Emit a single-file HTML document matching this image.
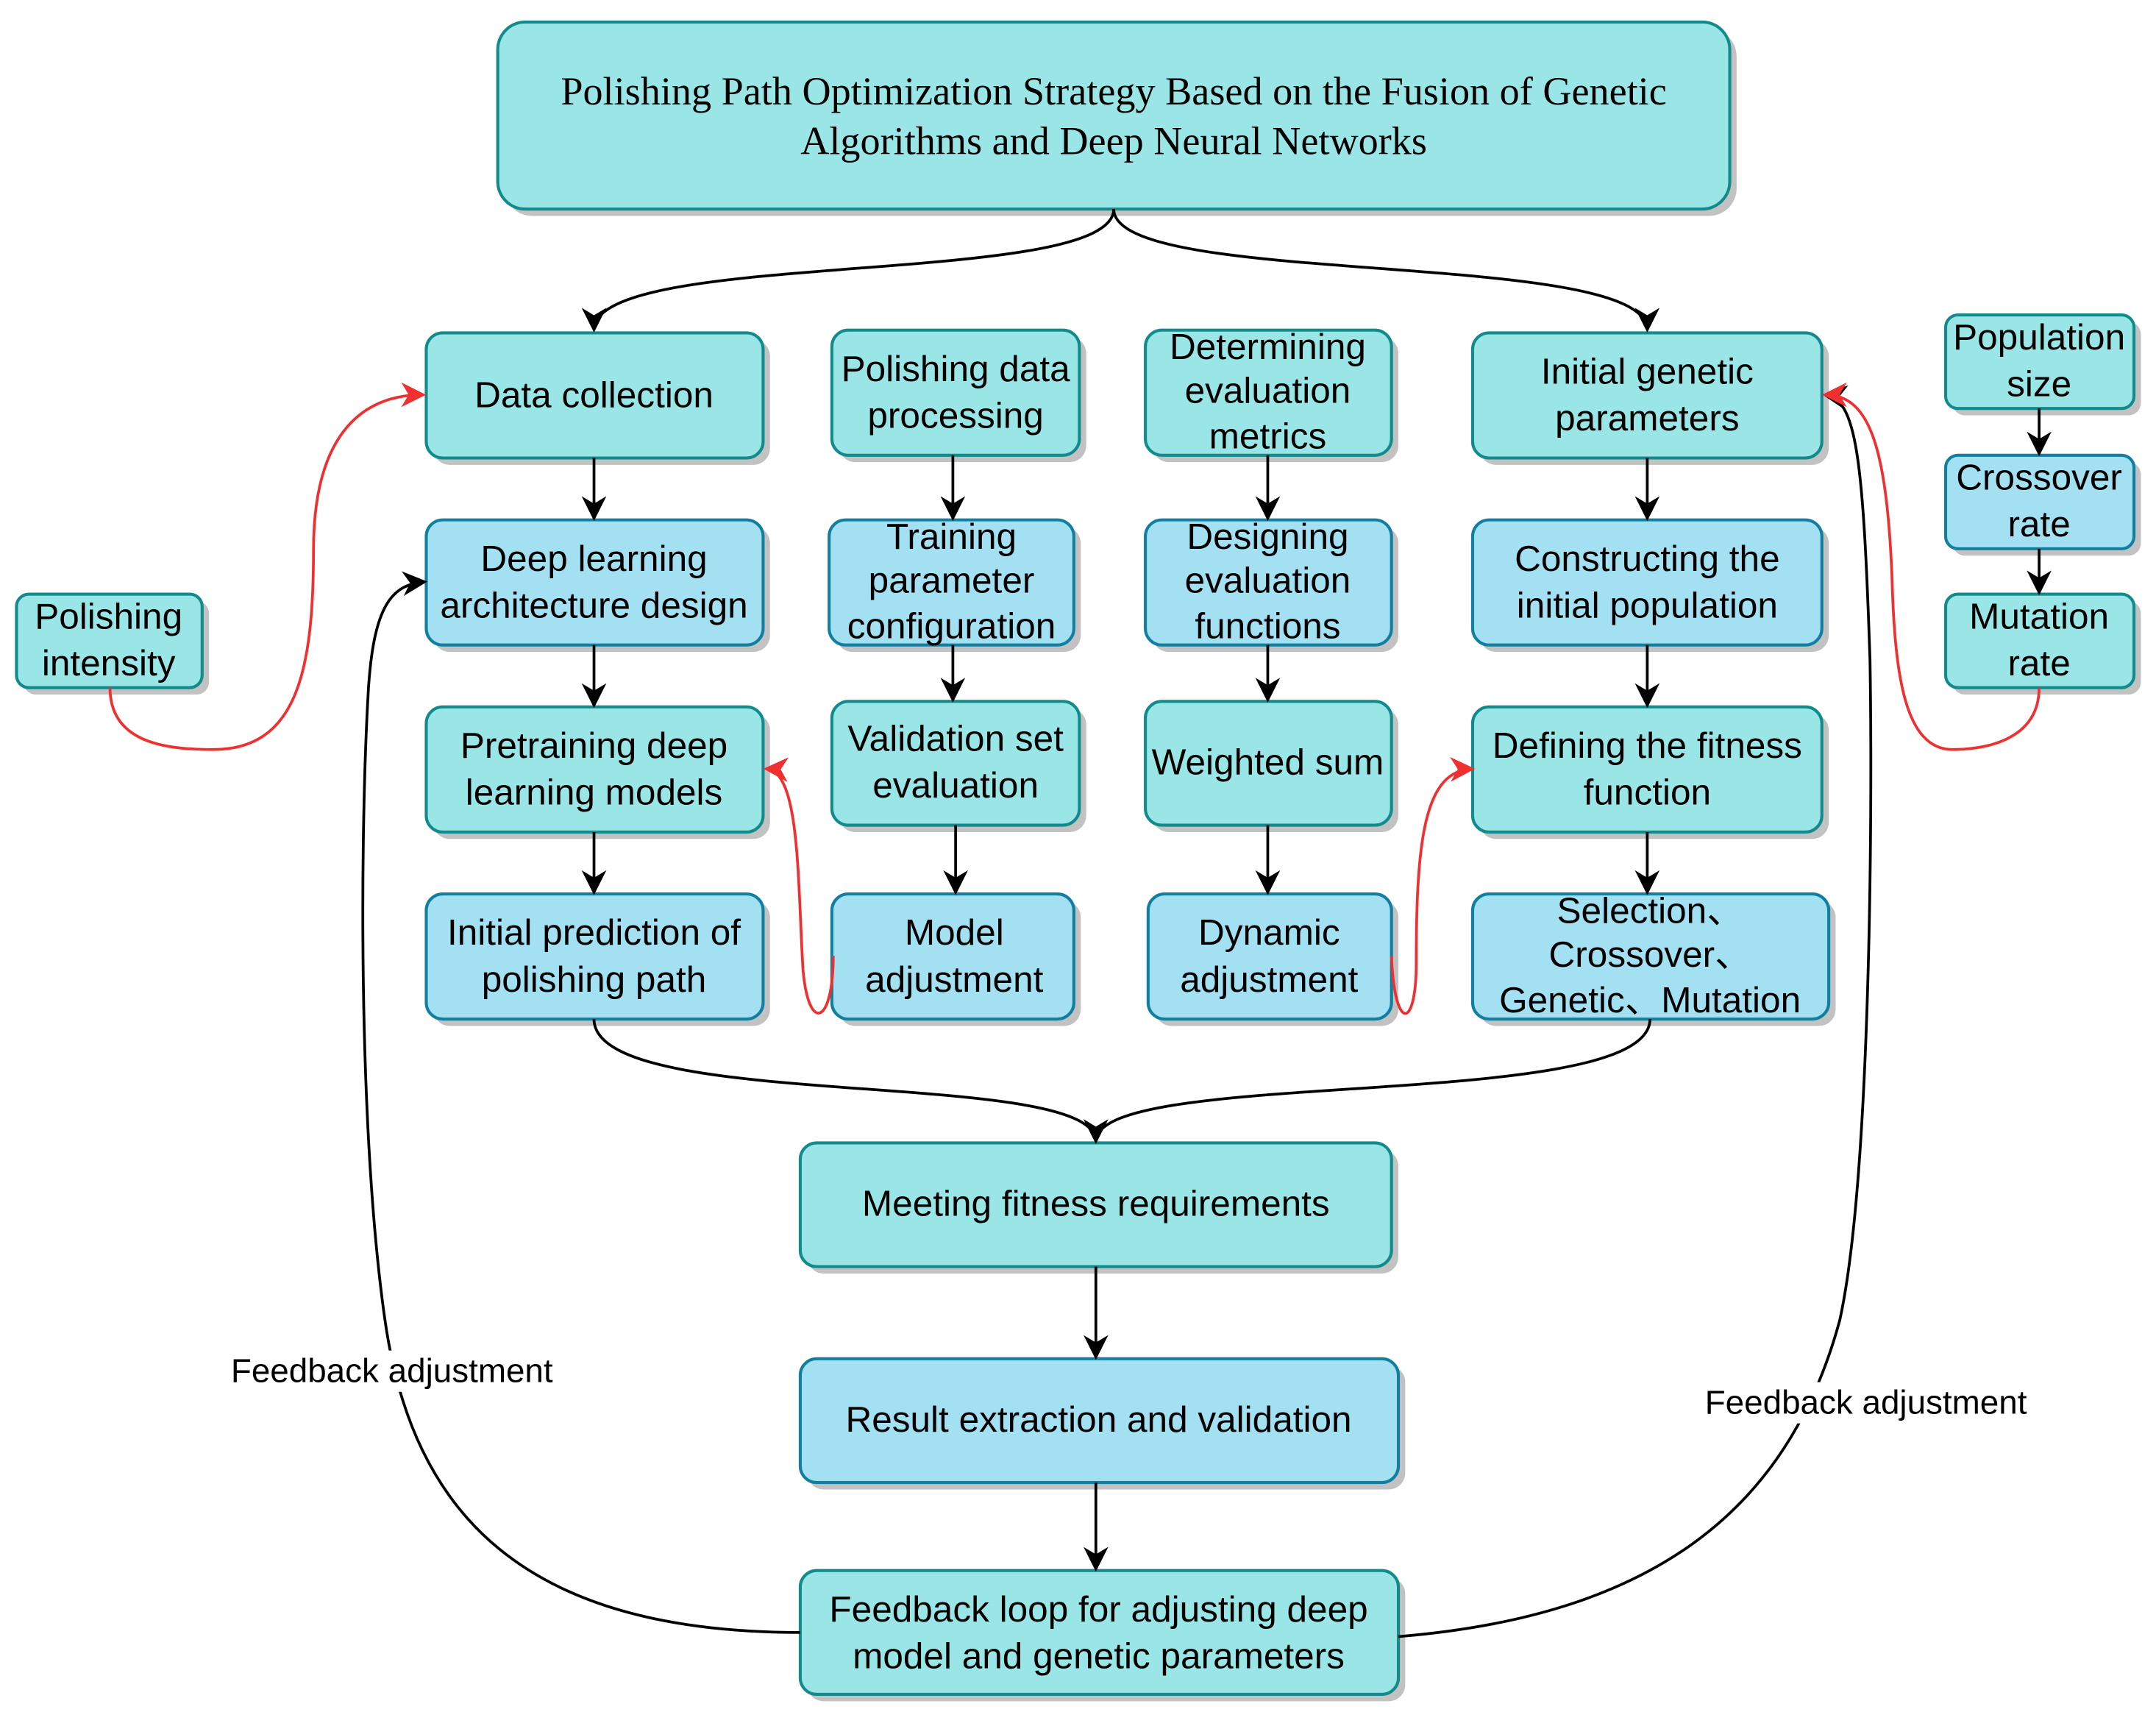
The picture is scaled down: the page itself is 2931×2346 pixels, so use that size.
<!DOCTYPE html>
<html><head><meta charset="utf-8"><style>
html,body{margin:0;padding:0;background:#fff;}
svg{display:block;}
text{font-family:"Liberation Sans","Noto Sans CJK SC",sans-serif;font-size:26.5px;fill:#000;text-anchor:middle;}
.t{fill:#9ae6e6;stroke:#138a8c;stroke-width:2.2;}
.b{fill:#a2e0f2;stroke:#127fa0;stroke-width:2.2;}
.s{fill:#c2c2c2;}
.k{fill:none;stroke:#000;stroke-width:2;}
.r{fill:none;stroke:#f03030;stroke-width:2;}
.ser{font-family:"Liberation Serif",serif;font-size:29px;}
.fb{font-size:24.5px;}
</style></head><body>
<svg width="2931" height="2346" viewBox="0 0 1568 1255" xmlns="http://www.w3.org/2000/svg">
<defs>
<marker id="a" viewBox="0 0 10 10" refX="9" refY="5" markerWidth="18" markerHeight="18" markerUnits="userSpaceOnUse" orient="auto"><path d="M0,0 L10,5 L0,10 L3,5 z" fill="#000"/></marker>
<marker id="ar" viewBox="0 0 10 10" refX="9" refY="5" markerWidth="18" markerHeight="18" markerUnits="userSpaceOnUse" orient="auto"><path d="M0,0 L10,5 L0,10 L3,5 z" fill="#f03030"/></marker>
</defs>
<g>
<rect class="s" x="367" y="21" width="896" height="136" rx="20"/><rect class="t" x="362" y="16" width="896" height="136" rx="20"/>

<rect class="s" x="315" y="247" width="245" height="91" rx="12"/><rect class="t" x="310" y="242" width="245" height="91" rx="12"/>
<rect class="s" x="315" y="383" width="245" height="91" rx="12"/><rect class="b" x="310" y="378" width="245" height="91" rx="12"/>
<rect class="s" x="315" y="519" width="245" height="91" rx="12"/><rect class="t" x="310" y="514" width="245" height="91" rx="12"/>
<rect class="s" x="315" y="655" width="245" height="91" rx="12"/><rect class="b" x="310" y="650" width="245" height="91" rx="12"/>

<rect class="s" x="610" y="245" width="180" height="91" rx="12"/><rect class="t" x="605" y="240" width="180" height="91" rx="12"/>
<rect class="s" x="608" y="383" width="178" height="91" rx="12"/><rect class="b" x="603" y="378" width="178" height="91" rx="12"/>
<rect class="s" x="610" y="515" width="180" height="90" rx="12"/><rect class="t" x="605" y="510" width="180" height="90" rx="12"/>
<rect class="s" x="610" y="655" width="176" height="91" rx="12"/><rect class="b" x="605" y="650" width="176" height="91" rx="12"/>

<rect class="s" x="838" y="245" width="179" height="91" rx="12"/><rect class="t" x="833" y="240" width="179" height="91" rx="12"/>
<rect class="s" x="838" y="383" width="179" height="91" rx="12"/><rect class="b" x="833" y="378" width="179" height="91" rx="12"/>
<rect class="s" x="838" y="515" width="179" height="90" rx="12"/><rect class="t" x="833" y="510" width="179" height="90" rx="12"/>
<rect class="s" x="840" y="655" width="177" height="91" rx="12"/><rect class="b" x="835" y="650" width="177" height="91" rx="12"/>

<rect class="s" x="1076" y="247" width="254" height="91" rx="12"/><rect class="t" x="1071" y="242" width="254" height="91" rx="12"/>
<rect class="s" x="1076" y="383" width="254" height="91" rx="12"/><rect class="b" x="1071" y="378" width="254" height="91" rx="12"/>
<rect class="s" x="1076" y="519" width="254" height="91" rx="12"/><rect class="t" x="1071" y="514" width="254" height="91" rx="12"/>
<rect class="s" x="1076" y="655" width="259" height="91" rx="12"/><rect class="b" x="1071" y="650" width="259" height="91" rx="12"/>

<rect class="s" x="1420" y="234" width="137" height="68" rx="9"/><rect class="t" x="1415" y="229" width="137" height="68" rx="9"/>
<rect class="s" x="1420" y="336" width="137" height="68" rx="9"/><rect class="b" x="1415" y="331" width="137" height="68" rx="9"/>
<rect class="s" x="1420" y="437" width="137" height="68" rx="9"/><rect class="t" x="1415" y="432" width="137" height="68" rx="9"/>

<rect class="s" x="17" y="437" width="135" height="68" rx="9"/><rect class="t" x="12" y="432" width="135" height="68" rx="9"/>

<rect class="s" x="587" y="836" width="430" height="90" rx="12"/><rect class="t" x="582" y="831" width="430" height="90" rx="12"/>
<rect class="s" x="587" y="993" width="435" height="90" rx="12"/><rect class="b" x="582" y="988" width="435" height="90" rx="12"/>
<rect class="s" x="587" y="1147" width="435" height="90" rx="12"/><rect class="t" x="582" y="1142" width="435" height="90" rx="12"/>
</g>

<path class="k" d="M810,152 C810,210 432,180 432,240" marker-end="url(#a)"/>
<path class="k" d="M810,152 C810,210 1198,180 1198,240" marker-end="url(#a)"/>
<path class="k" d="M432,333 V377" marker-end="url(#a)"/>
<path class="k" d="M432,469 V513" marker-end="url(#a)"/>
<path class="k" d="M432,605 V649" marker-end="url(#a)"/>
<path class="k" d="M693,331 V377" marker-end="url(#a)"/>
<path class="k" d="M693,469 V509" marker-end="url(#a)"/>
<path class="k" d="M695,600 V649" marker-end="url(#a)"/>
<path class="k" d="M922,331 V377" marker-end="url(#a)"/>
<path class="k" d="M922,469 V509" marker-end="url(#a)"/>
<path class="k" d="M922,600 V649" marker-end="url(#a)"/>
<path class="k" d="M1198,333 V377" marker-end="url(#a)"/>
<path class="k" d="M1198,469 V513" marker-end="url(#a)"/>
<path class="k" d="M1198,605 V649" marker-end="url(#a)"/>
<path class="k" d="M1483,297 V330" marker-end="url(#a)"/>
<path class="k" d="M1483,399 V431" marker-end="url(#a)"/>
<path class="k" d="M432,741 C432,810 797,775 797,830" marker-end="url(#a)"/>
<path class="k" d="M1200,741 C1200,810 797,775 797,830" marker-end="url(#a)"/>
<path class="k" d="M797,921 V987" marker-end="url(#a)"/>
<path class="k" d="M797,1078 V1141" marker-end="url(#a)"/>
<path class="k" d="M582,1187 C380,1187 300,1100 280,960 C260,820 262,600 268,500 C272,440 285,425 309,423" marker-end="url(#a)"/>
<path class="k" d="M1017,1190 C1200,1175 1300,1100 1338,960 C1360,860 1362,600 1360,480 C1355,330 1350,290 1327,287" marker-end="url(#a)"/>

<path class="r" d="M80,500 C80,540 120,545 155,545 C215,545 228,490 228,400 C228,320 260,287 308,287" marker-end="url(#ar)"/>
<path class="r" d="M1483,500 C1483,540 1440,545 1420,545 C1385,545 1378,490 1376,420 C1372,320 1358,287 1327,287" marker-end="url(#ar)"/>
<path class="r" d="M606,695 C606,745 588,752 584,705 C580,640 582,560 557,559" marker-end="url(#ar)"/>
<path class="r" d="M1012,695 C1014,750 1030,750 1030,700 C1030,610 1036,560 1071,559" marker-end="url(#ar)"/>

<rect x="163" y="982" width="244" height="30" fill="#fff"/>
<text class="fb" x="285" y="1005">Feedback adjustment</text>
<rect x="1235" y="1005" width="244" height="30" fill="#fff"/>
<text class="fb" x="1357" y="1028">Feedback adjustment</text>

<text class="ser" x="810" y="76">Polishing Path Optimization Strategy Based on the Fusion of Genetic</text>
<text class="ser" x="810" y="112">Algorithms and Deep Neural Networks</text>

<text x="432" y="296">Data collection</text>
<text x="432" y="415">Deep learning</text><text x="432" y="449">architecture design</text>
<text x="432" y="551">Pretraining deep</text><text x="432" y="585">learning models</text>
<text x="432" y="687">Initial prediction of</text><text x="432" y="721">polishing path</text>

<text x="695" y="277">Polishing data</text><text x="695" y="311">processing</text>
<text x="692" y="399">Training</text><text x="692" y="431">parameter</text><text x="692" y="464">configuration</text>
<text x="695" y="546">Validation set</text><text x="695" y="580">evaluation</text>
<text x="694" y="687">Model</text><text x="694" y="721">adjustment</text>

<text x="922" y="261">Determining</text><text x="922" y="293">evaluation</text><text x="922" y="326">metrics</text>
<text x="922" y="399">Designing</text><text x="922" y="431">evaluation</text><text x="922" y="464">functions</text>
<text x="922" y="563">Weighted sum</text>
<text x="923" y="687">Dynamic</text><text x="923" y="721">adjustment</text>

<text x="1198" y="279">Initial genetic</text><text x="1198" y="313">parameters</text>
<text x="1198" y="415">Constructing the</text><text x="1198" y="449">initial population</text>
<text x="1198" y="551">Defining the fitness</text><text x="1198" y="585">function</text>
<text x="1200" y="671">Selection、</text><text x="1200" y="703">Crossover、</text><text x="1200" y="736">Genetic、Mutation</text>

<text x="1483" y="254">Population</text><text x="1483" y="288">size</text>
<text x="1483" y="356">Crossover</text><text x="1483" y="390">rate</text>
<text x="1483" y="457">Mutation</text><text x="1483" y="491">rate</text>
<text x="79" y="457">Polishing</text><text x="79" y="491">intensity</text>

<text x="797" y="884">Meeting fitness requirements</text>
<text x="799" y="1041">Result extraction and validation</text>
<text x="799" y="1179">Feedback loop for adjusting deep</text><text x="799" y="1213">model and genetic parameters</text>
</svg>
</body></html>
